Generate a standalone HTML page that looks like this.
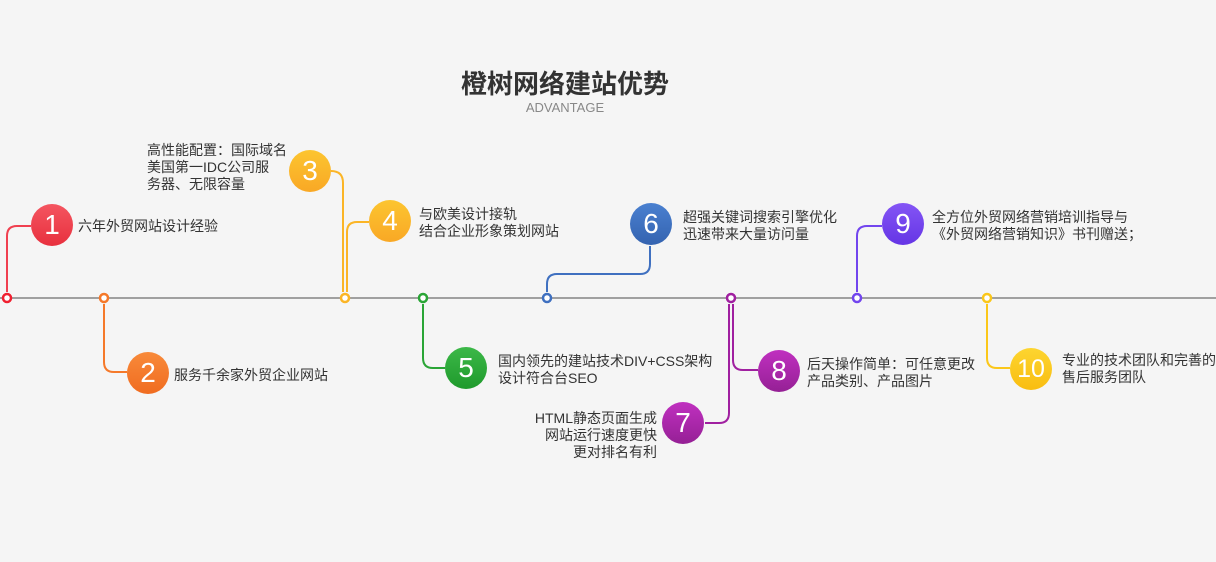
<!DOCTYPE html>
<html><head><meta charset="utf-8"><style>
body{margin:0;width:1216px;height:562px;background:#f5f5f5;position:relative;overflow:hidden;font-family:"Liberation Sans","Noto Sans CJK SC",sans-serif;}
.t{position:absolute;font-size:14px;line-height:17px;color:#333;white-space:nowrap}
.c{position:absolute;width:42px;height:42px;border-radius:50%;color:#fff;font-size:28px;line-height:42px;text-align:center;font-family:"Liberation Sans",sans-serif}
</style></head><body>
<div style="position:absolute;left:0;width:1130px;top:64px;text-align:center;font-size:26px;font-weight:bold;color:#333;font-family:'Liberation Sans','Noto Sans CJK SC',sans-serif">橙树网络建站优势</div>
<div style="position:absolute;left:0;width:1130px;top:100px;text-align:center;font-size:13px;color:#888">ADVANTAGE</div>
<svg width="1216" height="562" style="position:absolute;left:0;top:0" fill="none" stroke-width="2">
<line x1="0" y1="298" x2="1216" y2="298" stroke="#a0a0a0" stroke-width="2"/>
<path d="M7,292V236q0-10 10-10H31" stroke="#f04050"/>
<path d="M104,304V362q0,10 10,10H127" stroke="#f5792a"/>
<path d="M343,292V183q0-12 -12-12" stroke="#fbb526"/>
<path d="M347,292V232q0-10 10-10H369" stroke="#fbb526"/>
<path d="M423,304V358q0,10 10,10H445" stroke="#2aa536"/>
<path d="M547,292V284q0-10 10-10H640q10,0 10-10V246" stroke="#3f70c0"/>
<path d="M729,304V413q0,10 -10,10H705" stroke="#a020a0"/>
<path d="M733,304V360q0,10 10,10H758" stroke="#a020a0"/>
<path d="M857,292V236q0-10 10-10H882" stroke="#7245ee"/>
<path d="M987,304V358q0,10 10,10H1010" stroke="#fbc71a"/>
<g stroke-width="2.5" fill="#fff">
<circle cx="7" cy="298" r="4" stroke="#f02030"/>
<circle cx="104" cy="298" r="4" stroke="#f5792a"/>
<circle cx="345" cy="298" r="4" stroke="#fbb526"/>
<circle cx="423" cy="298" r="4" stroke="#2aa536"/>
<circle cx="547" cy="298" r="4" stroke="#3f70c0"/>
<circle cx="731" cy="298" r="4" stroke="#a020a0"/>
<circle cx="857" cy="298" r="4" stroke="#7245ee"/>
<circle cx="987" cy="298" r="4" stroke="#fbc71a"/>
</g>
</svg>
<div class="c" style="left:31px;top:204px;background:linear-gradient(#f45560,#e8303e)">1</div>
<div class="c" style="left:127px;top:352px;background:linear-gradient(#f88a3a,#f06c20)">2</div>
<div class="c" style="left:289px;top:150px;background:linear-gradient(#fcc530,#f9a825)">3</div>
<div class="c" style="left:369px;top:200px;background:linear-gradient(#fcc530,#f9a825)">4</div>
<div class="c" style="left:445px;top:347px;background:linear-gradient(#3cb848,#1f9a2c)">5</div>
<div class="c" style="left:630px;top:203px;background:linear-gradient(#4a80d0,#3463b0)">6</div>
<div class="c" style="left:662px;top:402px;background:linear-gradient(#c030c0,#952095)">7</div>
<div class="c" style="left:758px;top:350px;background:linear-gradient(#c030c0,#952095)">8</div>
<div class="c" style="left:882px;top:203px;background:linear-gradient(#8455f5,#6535e5)">9</div>
<div class="c" style="left:1010px;top:348px;background:linear-gradient(#fdd530,#f9bd10);font-size:25px">10</div>
<div class="t" style="left:78px;top:218px">六年外贸网站设计经验</div>
<div class="t" style="left:174px;top:367px">服务千余家外贸企业网站</div>
<div class="t" style="left:147px;top:142px">高性能配置：国际域名<br>美国第一IDC公司服<br>务器、无限容量</div>
<div class="t" style="left:419px;top:206px">与欧美设计接轨<br>结合企业形象策划网站</div>
<div class="t" style="left:498px;top:353px">国内领先的建站技术DIV+CSS架构<br>设计符合台SEO</div>
<div class="t" style="left:683px;top:209px">超强关键词搜索引擎优化<br>迅速带来大量访问量</div>
<div class="t" style="right:559px;top:410px;text-align:right">HTML静态页面生成<br>网站运行速度更快<br>更对排名有利</div>
<div class="t" style="left:807px;top:356px">后天操作简单：可任意更改<br>产品类别、产品图片</div>
<div class="t" style="left:932px;top:209px">全方位外贸网络营销培训指导与<br>《外贸网络营销知识》书刊赠送；</div>
<div class="t" style="left:1062px;top:352px">专业的技术团队和完善的<br>售后服务团队</div>
</body></html>
